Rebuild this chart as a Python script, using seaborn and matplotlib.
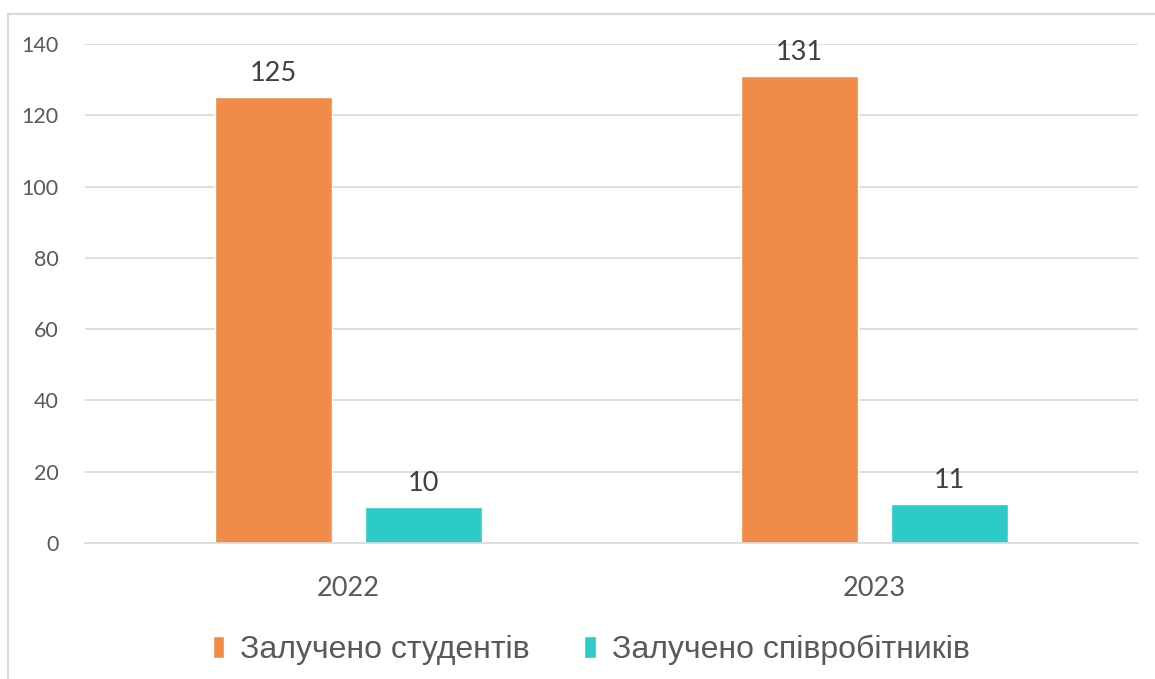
import matplotlib
matplotlib.use("Agg")
import matplotlib.pyplot as plt
import seaborn as sns
import pandas as pd
from matplotlib.lines import Line2D

years = ["2022", "2023"]
series_names = ["Залучено студентів", "Залучено співробітників"]
students = [125, 131]
staff = [10, 11]
y_ticks = [0, 20, 40, 60, 80, 100, 120, 140]

df = pd.DataFrame({
    "year": years * 2,
    "series": [series_names[0]] * len(years) + [series_names[1]] * len(years),
    "value": students + staff,
})

sns.set_style("white")
text_color = "#595959"
colors = ["#F08C48", "#2DCACA"]

fig = plt.figure(figsize=(11.55, 6.79), dpi=100)
ax = fig.add_axes([85 / 1155, 1 - 543 / 679, (1138 - 85) / 1155, (543 - 44) / 679])

sns.barplot(data=df, x="year", y="value", hue="series", palette=colors,
            width=0.57, gap=0.22, ax=ax, legend=True, saturation=1)

ax.set_ylim(0, 140)
ax.set_xlim(-0.5, 1.5)
ax.set_yticks(y_ticks)
ax.set_yticklabels([str(t) for t in y_ticks], fontsize=15.5, color=text_color, family="Lato")
ax.set_xticks(range(len(years)))
ax.set_xticklabels(years, fontsize=19.5, color=text_color, family="Lato")
ax.tick_params(axis="both", length=0)
ax.tick_params(axis="y", pad=19)
ax.tick_params(axis="x", pad=24)
ax.set_xlabel("")
ax.set_ylabel("")
ax.grid(axis="y", color="#D9D9D9", linewidth=1.2)
ax.set_axisbelow(True)
for s in ["left", "right", "top"]:
    ax.spines[s].set_visible(False)
ax.spines["bottom"].set_color("#D9D9D9")
ax.spines["bottom"].set_linewidth(1.2)

for cont in ax.containers:
    ax.bar_label(cont, padding=8, fontsize=19.5, color="#404040", family="Lato")

handles, labels = ax.get_legend_handles_labels()
ax.legend_.remove()
leg = fig.legend(handles, labels, loc="center", bbox_to_anchor=(0.512, 1 - 650 / 679),
                 ncol=2, frameon=False, handlelength=0.35, handleheight=0.65,
                 handletextpad=0.5, columnspacing=1.7,
                 prop={"family": "Liberation Sans", "size": 23})
for t in leg.get_texts():
    t.set_color(text_color)

border = "#D9D9D9"
fig.add_artist(Line2D([8 / 1155, 8 / 1155], [0, 1 - 14 / 679], color=border, lw=1.5, transform=fig.transFigure))
fig.add_artist(Line2D([8 / 1155, 1], [1 - 14 / 679, 1 - 14 / 679], color=border, lw=1.5, transform=fig.transFigure))

fig.savefig("out.png", dpi=100)
